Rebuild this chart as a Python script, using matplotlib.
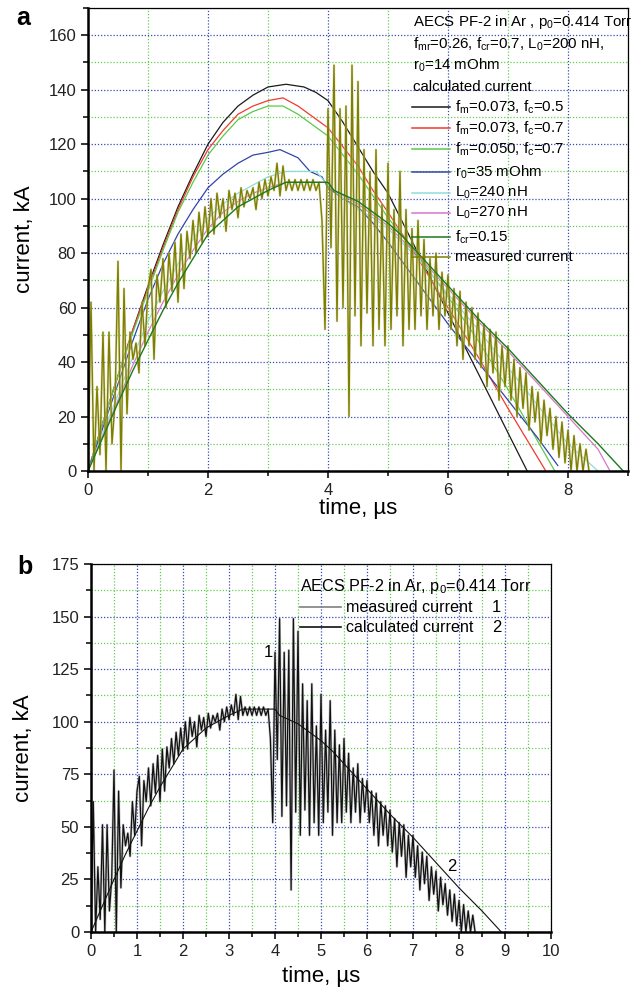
import numpy as np
import matplotlib
matplotlib.use("Agg")
import matplotlib.pyplot as plt
from matplotlib.ticker import MultipleLocator

plt.rcParams['font.family'] = ['Liberation Sans', 'DejaVu Sans']
plt.rcParams['mathtext.fontset'] = 'custom'
plt.rcParams['mathtext.rm'] = 'Liberation Sans'
plt.rcParams['mathtext.it'] = 'Liberation Sans:italic'

# measured current (kA), sampled every 0.05 us
dt_meas = 0.05
meas = [0, 62, 0, 31, 6, 51, 0, 51, 10, 25,
        77, 0, 67, 21, 51, 41, 47, 36, 62, 46,
        67, 74, 41, 72, 62, 78, 60, 80, 66, 84,
        62, 87, 67, 88, 78, 92, 80, 95, 84, 97,
        86, 100, 87, 102, 93, 100, 88, 103, 96, 102,
        93, 104, 97, 103, 100, 104, 96, 106, 100, 107,
        101, 108, 103, 113, 101, 112, 103, 107, 103, 107,
        103, 107, 103, 107, 103, 107, 103, 106, 92, 52,
        133, 82, 149, 55, 133, 60, 134, 20, 149, 57,
        143, 46, 118, 58, 110, 46, 118, 52, 98, 46,
        113, 52, 96, 57, 110, 46, 96, 52, 89, 52,
        92, 57, 85, 52, 78, 57, 80, 52, 73, 57,
        72, 52, 67, 46, 66, 41, 62, 46, 60, 41,
        58, 38, 54, 31, 52, 36, 51, 26, 46, 31,
        46, 26, 41, 20, 38, 23, 36, 15, 31, 18,
        29, 10, 26, 13, 23, 8, 20, 5, 18, 3,
        15, 0, 13, 0, 10, 0, 8, 0]
t_meas = np.arange(len(meas)) * dt_meas

# calculated currents (kA)
t_rise = [0, 0.25, 0.5, 0.75, 1, 1.25, 1.5, 1.75, 2, 2.25, 2.5, 2.75, 3]

t_black = t_rise + [3.3, 3.6, 3.8, 4, 4.25, 4.5, 4.75, 5, 5.5, 6, 6.5, 7, 7.32]
i_black = [0, 18, 35, 52, 68, 83, 97, 109, 120, 128, 134, 138, 141,
           142, 141, 139, 136, 128, 119, 110, 102, 80, 58, 36, 14, 0]

t_red = t_rise + [3.25, 3.5, 3.75, 4, 4.25, 4.5, 4.75, 5, 5.5, 6, 6.5, 7, 7.63]
i_red = [0, 18, 35, 52, 67, 82, 96, 108, 118, 125, 131, 134, 136,
         137, 134, 130, 126, 119, 112, 103, 95, 78, 60, 42, 23, 0]

t_lgreen = t_rise + [3.25, 3.5, 3.75, 4, 4.25, 4.5, 4.75, 5, 5.5, 6, 6.5, 7, 7.78]
i_lgreen = [0, 18, 35, 51, 66, 81, 95, 106, 116, 123, 129, 132, 134,
            134, 131, 127, 123, 116, 109, 101, 93, 79, 64, 48, 30, 0]

t_blue = t_rise + [3.2, 3.5, 3.7, 3.9, 4, 4.25, 4.5, 4.75, 5, 5.5, 6, 6.5, 7, 7.5, 7.83]
i_blue = [0, 16, 32, 48, 63, 76, 87, 96, 104, 109, 113, 116, 117,
          118, 115, 110, 108, 104, 100, 97, 91, 84, 69, 54, 40, 26, 12, 2]

t_cyan = t_rise + [3.3, 3.8, 4, 4.25, 4.5, 4.75, 5, 5.5, 6, 6.5, 7, 7.5, 8, 8.5]
i_cyan = [0, 14, 28, 42, 55, 66, 76, 85, 93, 98, 102, 105, 108,
          110, 110, 105, 100, 96, 93, 89, 78, 65, 52, 38, 24, 10, 0]

t_pink = t_rise + [3.3, 4, 4.1, 4.5, 5, 5.5, 6, 6.5, 7, 7.5, 8, 8.5, 8.7]
i_pink = [0, 13, 26, 39, 51, 62, 72, 81, 89, 95, 99, 102, 104,
          106, 106, 103, 98, 90, 79, 67, 55, 44, 32, 20, 8, 0]

t_dgreen = t_rise + [3.3, 4, 4.1, 4.3, 4.5, 4.75, 5, 5.25, 5.5, 5.75, 6,
                     6.5, 7, 7.5, 8, 8.5, 8.92]
i_dgreen = [0, 12.5, 25, 37, 48, 59, 69, 78, 87, 92, 97, 100, 103,
            106, 106, 103, 101, 99, 95, 91, 86, 80, 74, 68,
            56, 45, 33, 21, 10, 0]

curves_a = [
    (t_black, i_black, '#1a1a1a', r'f$_\mathrm{m}$=0.073, f$_\mathrm{c}$=0.5'),
    (t_red, i_red, '#f03a2e', r'f$_\mathrm{m}$=0.073, f$_\mathrm{c}$=0.7'),
    (t_lgreen, i_lgreen, '#5cc84a', r'f$_\mathrm{m}$=0.050, f$_\mathrm{c}$=0.7'),
    (t_blue, i_blue, '#3344a8', r'r$_\mathrm{0}$=35 mOhm'),
    (t_cyan, i_cyan, '#8edcd8', r'L$_\mathrm{0}$=240 nH'),
    (t_pink, i_pink, '#d877c8', r'L$_\mathrm{0}$=270 nH'),
    (t_dgreen, i_dgreen, '#1c7a1c', r'f$_\mathrm{cr}$=0.15'),
]
olive = '#7f7f00'

fig = plt.figure(figsize=(6.41, 9.92), dpi=100)
W, H = 641, 992
ax1 = fig.add_axes([88 / W, (H - 471) / H, 540 / W, 463 / H])
ax2 = fig.add_axes([91 / W, (H - 932) / H, 460 / W, 368 / H])


def style(ax, xmaj, xmin, ymaj, ymin):
    ax.xaxis.set_major_locator(MultipleLocator(xmaj))
    ax.xaxis.set_minor_locator(MultipleLocator(xmin))
    ax.yaxis.set_major_locator(MultipleLocator(ymaj))
    ax.yaxis.set_minor_locator(MultipleLocator(ymin))
    ax.grid(which='minor', color='#66cc55', ls=(0, (1, 1.5)), lw=0.9)
    ax.grid(which='major', color='#3a4bb0', ls=(0, (1, 1.5)), lw=0.9)
    ax.set_axisbelow(True)
    for s in ['left', 'bottom']:
        ax.spines[s].set_linewidth(1.8)
    for s in ['top', 'right']:
        ax.spines[s].set_linewidth(0.9)
    ax.tick_params(which='major', direction='out', length=5, width=1.3,
                   labelsize=12, top=False, right=False, colors='#222222')
    ax.tick_params(which='minor', direction='out', length=3.5, width=1.1,
                   top=False, right=False)


# ---- panel a ----
style(ax1, 2, 1, 20, 10)
ax1.set_xlim(0, 9)
ax1.set_ylim(0, 170)
for t, v, c, lab in curves_a[:-1]:
    ax1.plot(t, v, color=c, lw=0.9)
ax1.plot(t_meas, meas, color='#d2d2a2', lw=1.8, alpha=0.6)
ax1.plot(t_meas, meas, color=olive, lw=1.0)
ax1.plot(curves_a[-1][0], curves_a[-1][1], color=curves_a[-1][2], lw=1.0)
ax1.set_xlabel('time, µs', fontsize=16)
ax1.set_ylabel('current, kA', fontsize=16)
ax1.xaxis.set_label_coords(0.5, -0.08)
ax1.xaxis.label.set_va('center')
ax1.yaxis.set_label_coords(-0.118, 0.5)
ax1.yaxis.label.set_va('center')
ax1.text(-0.107, 0.978, 'a', transform=ax1.transAxes, fontsize=18,
         fontweight='bold', ha='right', va='center')

# legend of panel a, in axes coordinates
def ya(py):
    return (471 - py) / 463


def xa(px):
    return (px - 88) / 540


hdr = ['AECS PF-2 in Ar , p$_\\mathrm{0}$=0.414 Torr',
       'f$_\\mathrm{mr}$=0.26, f$_\\mathrm{cr}$=0.7, L$_\\mathrm{0}$=200 nH,',
       'r$_\\mathrm{0}$=14 mOhm',
       'calculated current']
for txt, py in zip(hdr, [22, 44, 65, 87]):
    ax1.text(xa(413), ya(py), txt, transform=ax1.transAxes, fontsize=10.8,
             va='center', ha='left', clip_on=False)
rows = [107, 128, 149, 172, 193, 213, 237, 257]
entries = [(c, lab) for _, _, c, lab in curves_a] + [(olive, 'measured current')]
for (c, lab), py in zip(entries, rows):
    ax1.plot([xa(412), xa(450)], [ya(py), ya(py)], color=c, lw=1.1,
             transform=ax1.transAxes)
    ax1.text(xa(455), ya(py), lab, transform=ax1.transAxes, fontsize=10.8,
             va='center', ha='left')

# ---- panel b ----
style(ax2, 1, 0.5, 25, 12.5)
ax2.set_xlim(0, 10)
ax2.set_ylim(0, 175)
ax2.plot(t_meas, meas, color='#a0a0a0', lw=1.8, alpha=0.6)
ax2.plot(t_meas, meas, color='#111111', lw=0.9)
ax2.plot(t_dgreen, i_dgreen, color='#111111', lw=0.8)
ax2.text(3.85, 133, '1', fontsize=12, ha='center', va='center')
ax2.text(7.85, 31, '2', fontsize=12, ha='center', va='center')
ax2.set_xlabel('time, µs', fontsize=16)
ax2.set_ylabel('current, kA', fontsize=16)
ax2.xaxis.set_label_coords(0.5, -0.122)
ax2.xaxis.label.set_va('center')
ax2.yaxis.set_label_coords(-0.146, 0.5)
ax2.yaxis.label.set_va('center')
ax2.text(-0.128, 0.992, 'b', transform=ax2.transAxes, fontsize=18,
         fontweight='bold', ha='right', va='center')


def xb(px):
    return (px - 91) / 460


def yb(py):
    return (932 - py) / 368


ax2.text(xb(300), yb(586), 'AECS PF-2 in Ar, p$_\\mathrm{0}$=0.414 Torr',
         transform=ax2.transAxes, fontsize=11.6, va='center', ha='left')
for c, lab, num, py in [('#808080', 'measured current', '1', 607),
                        ('#111111', 'calculated current', '2', 627)]:
    ax2.plot([xb(300), xb(341)], [yb(py), yb(py)], color=c, lw=1.2,
             transform=ax2.transAxes)
    ax2.text(xb(346), yb(py), lab, transform=ax2.transAxes, fontsize=11.6,
             va='center', ha='left')
    ax2.text(xb(492), yb(py), num, transform=ax2.transAxes, fontsize=12,
             va='center', ha='left')

fig.savefig('out.png', dpi=100)
